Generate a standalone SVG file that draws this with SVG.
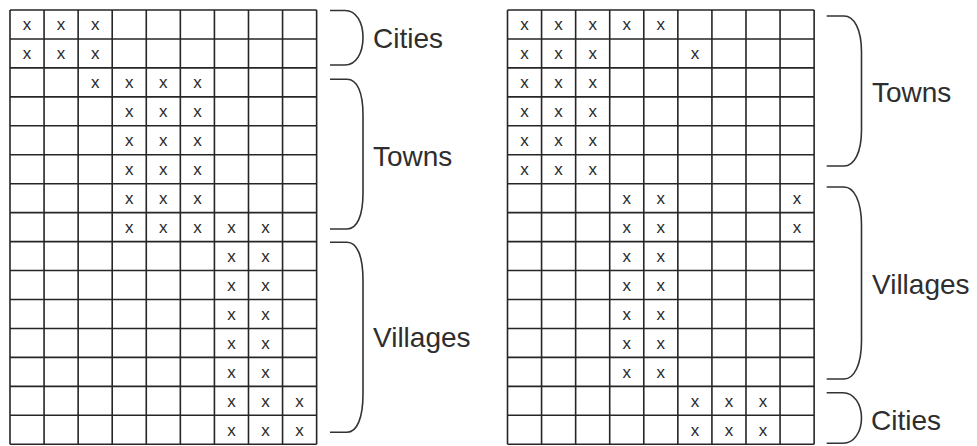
<svg xmlns="http://www.w3.org/2000/svg" width="977" height="446" viewBox="0 0 977 446">
<style>
.grid{fill:none;stroke:#262626;stroke-width:1.6}
.x{font-family:"Liberation Sans",Arial,sans-serif;font-size:17px;fill:#2a2a2a;text-anchor:middle}
.brace{fill:none;stroke:#333;stroke-width:1.6}
.lbl{font-family:"Liberation Sans",Arial,sans-serif;font-size:28px;fill:#2e2e2e}
</style>
<rect width="977" height="446" fill="#fff"/>
<g id="left-grid">
<path class="grid" d="M10 10V444.25M44.07 10V444.25M78.14 10V444.25M112.21 10V444.25M146.28 10V444.25M180.35 10V444.25M214.42 10V444.25M248.49 10V444.25M282.56 10V444.25M316.63 10V444.25M10 10H316.63M10 38.95H316.63M10 67.9H316.63M10 96.85H316.63M10 125.8H316.63M10 154.75H316.63M10 183.7H316.63M10 212.65H316.63M10 241.6H316.63M10 270.55H316.63M10 299.5H316.63M10 328.45H316.63M10 357.4H316.63M10 386.35H316.63M10 415.3H316.63M10 444.25H316.63"/>
<text class="x" x="27.04" y="30.2">x</text><text class="x" x="61.11" y="30.2">x</text><text class="x" x="95.18" y="30.2">x</text>
<text class="x" x="27.04" y="59.15">x</text><text class="x" x="61.11" y="59.15">x</text><text class="x" x="95.18" y="59.15">x</text>
<text class="x" x="95.18" y="88.1">x</text><text class="x" x="129.25" y="88.1">x</text><text class="x" x="163.32" y="88.1">x</text><text class="x" x="197.39" y="88.1">x</text>
<text class="x" x="129.25" y="117.05">x</text><text class="x" x="163.32" y="117.05">x</text><text class="x" x="197.39" y="117.05">x</text>
<text class="x" x="129.25" y="146">x</text><text class="x" x="163.32" y="146">x</text><text class="x" x="197.39" y="146">x</text>
<text class="x" x="129.25" y="174.95">x</text><text class="x" x="163.32" y="174.95">x</text><text class="x" x="197.39" y="174.95">x</text>
<text class="x" x="129.25" y="203.9">x</text><text class="x" x="163.32" y="203.9">x</text><text class="x" x="197.39" y="203.9">x</text>
<text class="x" x="129.25" y="232.85">x</text><text class="x" x="163.32" y="232.85">x</text><text class="x" x="197.39" y="232.85">x</text><text class="x" x="231.46" y="232.85">x</text><text class="x" x="265.53" y="232.85">x</text>
<text class="x" x="231.46" y="261.8">x</text><text class="x" x="265.53" y="261.8">x</text>
<text class="x" x="231.46" y="290.75">x</text><text class="x" x="265.53" y="290.75">x</text>
<text class="x" x="231.46" y="319.7">x</text><text class="x" x="265.53" y="319.7">x</text>
<text class="x" x="231.46" y="348.65">x</text><text class="x" x="265.53" y="348.65">x</text>
<text class="x" x="231.46" y="377.6">x</text><text class="x" x="265.53" y="377.6">x</text>
<text class="x" x="231.46" y="406.55">x</text><text class="x" x="265.53" y="406.55">x</text><text class="x" x="299.6" y="406.55">x</text>
<text class="x" x="231.46" y="435.5">x</text><text class="x" x="265.53" y="435.5">x</text><text class="x" x="299.6" y="435.5">x</text>
</g>
<g id="right-grid">
<path class="grid" d="M507.5 10V444.25M541.57 10V444.25M575.64 10V444.25M609.71 10V444.25M643.78 10V444.25M677.85 10V444.25M711.92 10V444.25M745.99 10V444.25M780.06 10V444.25M814.13 10V444.25M507.5 10H814.13M507.5 38.95H814.13M507.5 67.9H814.13M507.5 96.85H814.13M507.5 125.8H814.13M507.5 154.75H814.13M507.5 183.7H814.13M507.5 212.65H814.13M507.5 241.6H814.13M507.5 270.55H814.13M507.5 299.5H814.13M507.5 328.45H814.13M507.5 357.4H814.13M507.5 386.35H814.13M507.5 415.3H814.13M507.5 444.25H814.13"/>
<text class="x" x="524.54" y="30.2">x</text><text class="x" x="558.61" y="30.2">x</text><text class="x" x="592.68" y="30.2">x</text><text class="x" x="626.75" y="30.2">x</text><text class="x" x="660.82" y="30.2">x</text>
<text class="x" x="524.54" y="59.15">x</text><text class="x" x="558.61" y="59.15">x</text><text class="x" x="592.68" y="59.15">x</text><text class="x" x="694.89" y="59.15">x</text>
<text class="x" x="524.54" y="88.1">x</text><text class="x" x="558.61" y="88.1">x</text><text class="x" x="592.68" y="88.1">x</text>
<text class="x" x="524.54" y="117.05">x</text><text class="x" x="558.61" y="117.05">x</text><text class="x" x="592.68" y="117.05">x</text>
<text class="x" x="524.54" y="146">x</text><text class="x" x="558.61" y="146">x</text><text class="x" x="592.68" y="146">x</text>
<text class="x" x="524.54" y="174.95">x</text><text class="x" x="558.61" y="174.95">x</text><text class="x" x="592.68" y="174.95">x</text>
<text class="x" x="626.75" y="203.9">x</text><text class="x" x="660.82" y="203.9">x</text><text class="x" x="797.1" y="203.9">x</text>
<text class="x" x="626.75" y="232.85">x</text><text class="x" x="660.82" y="232.85">x</text><text class="x" x="797.1" y="232.85">x</text>
<text class="x" x="626.75" y="261.8">x</text><text class="x" x="660.82" y="261.8">x</text>
<text class="x" x="626.75" y="290.75">x</text><text class="x" x="660.82" y="290.75">x</text>
<text class="x" x="626.75" y="319.7">x</text><text class="x" x="660.82" y="319.7">x</text>
<text class="x" x="626.75" y="348.65">x</text><text class="x" x="660.82" y="348.65">x</text>
<text class="x" x="626.75" y="377.6">x</text><text class="x" x="660.82" y="377.6">x</text>
<text class="x" x="694.89" y="406.55">x</text><text class="x" x="728.96" y="406.55">x</text><text class="x" x="763.03" y="406.55">x</text>
<text class="x" x="694.89" y="435.5">x</text><text class="x" x="728.96" y="435.5">x</text><text class="x" x="763.03" y="435.5">x</text>
</g>
<g id="connectors">
<path class="brace" d="M330 10.5H345C356 10.5 363 22 363 37.5C363 53 356 65 345 65H330"/>
<path class="brace" d="M330 79.3H347C357 79.3 363 92 363 115V193C363 216 357 229 347 229H330"/>
<path class="brace" d="M330 242.3H347C357 242.3 363 256 363 280V394C363 418 357 432.3 347 432.3H330"/>
<path class="brace" d="M826.7 16H844C854 16 861.5 29 861.5 52V130C861.5 153 854 166 844 166H826.7"/>
<path class="brace" d="M826.7 187H844C854 187 861.5 201 861.5 225V341C861.5 365 854 379 844 379H826.7"/>
<path class="brace" d="M826.7 392.7H843C854 392.7 861.5 404 861.5 418C861.5 432 854 443.3 843 443.3H826.7"/>
</g>
<g id="label-left-cities"><text class="lbl" x="373" y="48">Cities</text></g>
<g id="label-left-towns"><text class="lbl" x="373" y="166">Towns</text></g>
<g id="label-left-villages"><text class="lbl" x="373" y="347">Villages</text></g>
<g id="label-right-towns"><text class="lbl" x="872" y="102">Towns</text></g>
<g id="label-right-villages"><text class="lbl" x="872" y="294">Villages</text></g>
<g id="label-right-cities"><text class="lbl" x="871" y="430">Cities</text></g>
</svg>
